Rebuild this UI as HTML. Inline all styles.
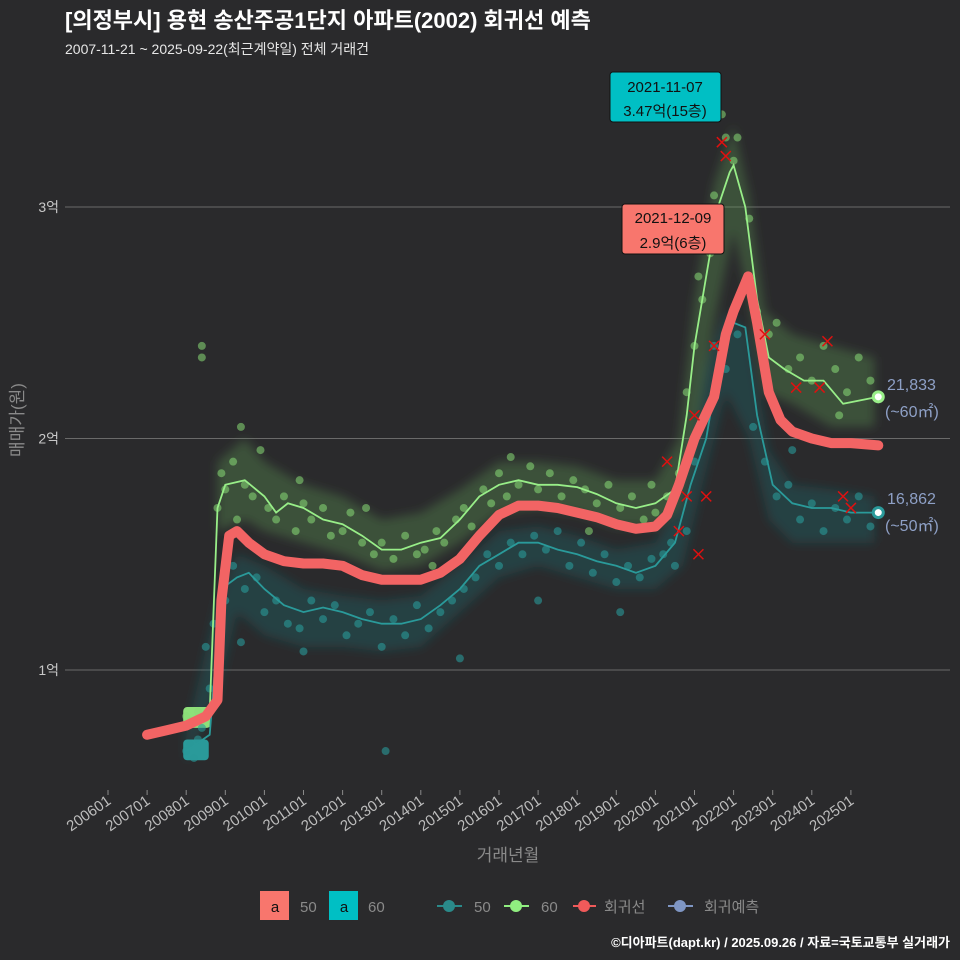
<!DOCTYPE html>
<html><head><meta charset="utf-8">
<style>
body{margin:0;background:#2a2a2c;}
svg{display:block;font-family:"Liberation Sans","Noto Sans CJK KR",sans-serif;}
</style></head>
<body>
<svg id="chart" width="960" height="960" viewBox="0 0 960 960" xmlns="http://www.w3.org/2000/svg">
<defs><filter id="soft" x="-10%" y="-10%" width="120%" height="120%"><feGaussianBlur stdDeviation="5"/></filter></defs>
<rect width="960" height="960" fill="#2a2a2c"/>
<text x="65" y="28" fill="#ffffff" font-size="22" font-weight="bold">[의정부시] 용현 송산주공1단지 아파트(2002) 회귀선 예측</text>
<text x="65" y="54" fill="#e6e6e6" font-size="14">2007-11-21 ~ 2025-09-22(최근계약일) 전체 거래건</text>
<g id="grid"></g>
<g id="bands" filter="url(#soft)"></g>
<g id="scatter"></g>
<g id="lines"></g>
<g id="marks"></g>
<g id="axes"></g>
<text transform="translate(23,420) rotate(-90)" text-anchor="middle" fill="#8a8a8a" font-size="17">매매가(원)</text>
<text x="508" y="861" text-anchor="middle" fill="#8a8a8a" font-size="17">거래년월</text>

<g>
<rect x="610" y="72" width="111" height="50" rx="3" fill="#00bfc4" stroke="#111" stroke-width="1"/>
<text x="665" y="92" text-anchor="middle" font-size="15" fill="#111">2021-11-07</text>
<text x="665" y="116" text-anchor="middle" font-size="15" fill="#111">3.47억(15층)</text>
</g>
<g>
<rect x="622" y="204" width="102" height="50" rx="3" fill="#f8766d" stroke="#111" stroke-width="1"/>
<text x="673" y="223" text-anchor="middle" font-size="15" fill="#111">2021-12-09</text>
<text x="673" y="248" text-anchor="middle" font-size="15" fill="#111">2.9억(6층)</text>
</g>
<text x="887" y="390" fill="#8ea0c6" font-size="16">21,833</text>
<text x="885" y="417" fill="#8ea0c6" font-size="16">(~60㎡)</text>
<text x="887" y="504" fill="#8ea0c6" font-size="16">16,862</text>
<text x="885" y="531" fill="#8ea0c6" font-size="16">(~50㎡)</text>

<g>
<rect x="260" y="891" width="29" height="29" fill="#f8766d"/>
<text x="275" y="912" text-anchor="middle" font-size="15" fill="#111">a</text>
<text x="300" y="912" font-size="15" fill="#8a8a8a">50</text>
<rect x="329" y="891" width="29" height="29" fill="#00bfc4"/>
<text x="344" y="912" text-anchor="middle" font-size="15" fill="#111">a</text>
<text x="368" y="912" font-size="15" fill="#8a8a8a">60</text>
<g><line x1="437" y1="906" x2="462" y2="906" stroke="#2a8a8a" stroke-width="2"/><circle cx="449" cy="906" r="6" fill="#2a8a8a"/><text x="474" y="912" font-size="15" fill="#8a8a8a">50</text></g>
<g><line x1="504" y1="906" x2="529" y2="906" stroke="#90ee80" stroke-width="2"/><circle cx="516" cy="906" r="6" fill="#90ee80"/><text x="541" y="912" font-size="15" fill="#8a8a8a">60</text></g>
<g><line x1="573" y1="906" x2="596" y2="906" stroke="#f05a5a" stroke-width="2"/><circle cx="584" cy="906" r="6" fill="#f05a5a"/><text x="604" y="912" font-size="15" fill="#8a8a8a">회귀선</text></g>
<g><line x1="668" y1="906" x2="693" y2="906" stroke="#7f96c4" stroke-width="2"/><circle cx="680" cy="906" r="6" fill="#7f96c4"/><text x="704" y="912" font-size="15" fill="#8a8a8a">회귀예측</text></g>
</g>
<text x="950" y="947" text-anchor="end" fill="#ffffff" font-size="13" font-weight="bold">©디아파트(dapt.kr) / 2025.09.26 / 자료=국토교통부 실거래가</text>
</svg>
<script>
const yTicks=[1,2,3];
const yTickLabels=["1억","2억","3억"];
const xTickYears=[2006,2007,2008,2009,2010,2011,2012,2013,2014,2015,2016,2017,2018,2019,2020,2021,2022,2023,2024,2025];
const xTickLabels=["200601","200701","200801","200901","201001","201101","201201","201301","201401","201501","201601","201701","201801","201901","202001","202101","202201","202301","202401","202501"];
const regT=[2007.0,2007.5,2008.0,2008.5,2008.8,2008.9,2009.1,2009.3,2009.6,2010.0,2010.5,2011.0,2011.5,2012.0,2012.5,2013.0,2013.5,2014.0,2014.5,2015.0,2015.5,2016.0,2016.5,2017.0,2017.5,2018.0,2018.5,2019.0,2019.5,2020.0,2020.3,2020.6,2021.0,2021.5,2021.8,2022.0,2022.37,2022.6,2022.9,2023.2,2023.5,2024.0,2024.5,2025.0,2025.7];
const regV=[0.72,0.74,0.76,0.80,0.87,1.30,1.58,1.60,1.55,1.50,1.47,1.46,1.46,1.45,1.41,1.39,1.39,1.39,1.42,1.48,1.58,1.67,1.71,1.71,1.70,1.68,1.66,1.63,1.61,1.62,1.67,1.80,2.00,2.18,2.45,2.55,2.70,2.50,2.20,2.08,2.03,2.00,1.98,1.98,1.97];
const g60T=[2008.0,2008.6,2008.8,2009.0,2009.5,2010.0,2010.3,2010.6,2011.0,2011.5,2012.0,2012.5,2013.0,2013.5,2014.0,2014.5,2015.0,2015.5,2016.0,2016.5,2017.0,2017.5,2018.0,2018.5,2019.0,2019.5,2020.0,2020.5,2020.8,2021.0,2021.3,2021.6,2021.9,2022.0,2022.3,2022.6,2022.9,2023.3,2023.8,2024.3,2024.8,2025.7];
const g60V=[0.78,0.82,1.70,1.80,1.82,1.75,1.68,1.72,1.70,1.65,1.63,1.58,1.52,1.52,1.55,1.57,1.65,1.75,1.80,1.82,1.80,1.80,1.79,1.76,1.72,1.70,1.72,1.78,2.10,2.40,2.70,3.00,3.15,3.18,3.00,2.60,2.35,2.30,2.25,2.25,2.15,2.18];
const g50T=[2008.0,2008.6,2008.9,2009.3,2009.6,2010.0,2010.5,2011.0,2011.5,2012.0,2012.5,2013.0,2013.5,2014.0,2014.5,2015.0,2015.5,2016.0,2016.5,2017.0,2017.5,2018.0,2018.5,2019.0,2019.5,2020.0,2020.5,2020.9,2021.3,2021.6,2022.0,2022.3,2022.6,2023.0,2023.5,2024.0,2024.5,2025.0,2025.7];
const g50V=[0.65,0.72,1.35,1.40,1.42,1.35,1.28,1.25,1.27,1.25,1.22,1.20,1.20,1.22,1.28,1.35,1.45,1.50,1.55,1.55,1.52,1.50,1.47,1.45,1.42,1.45,1.55,1.80,2.00,2.30,2.50,2.48,2.10,1.80,1.72,1.70,1.70,1.68,1.68];
// density envelopes of the scatter clouds
const band60T=[2008.8,2009.5,2010.0,2011.0,2012.0,2013.0,2014.0,2015.0,2016.0,2017.0,2018.0,2019.0,2020.0,2020.6,2021.0,2021.5,2022.0,2022.4,2022.8,2023.5,2024.5,2025.6];
const band60Lo=[1.60,1.65,1.60,1.55,1.50,1.43,1.45,1.55,1.68,1.70,1.68,1.62,1.62,1.70,2.00,2.50,2.90,2.60,2.20,2.15,2.05,2.05];
const band60Hi=[1.90,2.00,1.90,1.80,1.75,1.65,1.68,1.78,1.90,1.90,1.88,1.82,1.82,2.00,2.60,3.10,3.35,3.05,2.55,2.45,2.40,2.35];
const band50T=[2008.0,2008.8,2009.3,2010.0,2011.0,2012.0,2013.0,2014.0,2015.0,2016.0,2017.0,2018.0,2019.0,2020.0,2020.7,2021.2,2021.8,2022.4,2022.9,2023.5,2024.5,2025.6];
const band50Lo=[0.60,0.90,1.25,1.15,1.10,1.10,1.08,1.10,1.25,1.40,1.45,1.40,1.35,1.35,1.45,1.80,2.20,2.00,1.65,1.55,1.55,1.55];
const band50Hi=[0.72,1.30,1.50,1.45,1.35,1.32,1.30,1.32,1.45,1.60,1.62,1.58,1.52,1.55,1.75,2.30,2.55,2.45,1.95,1.80,1.78,1.75];
const s60T=[2008.0,2008.1,2008.3,2008.4,2008.4,2008.8,2008.9,2009.0,2009.2,2009.4,2009.5,2009.7,2009.9,2010.1,2010.3,2010.5,2010.8,2011.0,2011.2,2011.5,2011.7,2012.0,2012.2,2012.5,2012.8,2013.0,2013.3,2013.6,2013.9,2014.1,2014.4,2014.6,2014.9,2015.1,2015.3,2015.6,2015.8,2016.0,2016.2,2016.5,2016.8,2017.0,2017.3,2017.6,2017.9,2018.2,2018.5,2018.8,2019.1,2019.4,2019.7,2020.0,2020.3,2020.6,2020.8,2021.0,2021.2,2021.4,2021.5,2021.7,2021.8,2022.0,2022.1,2022.4,2022.6,2022.9,2023.1,2023.4,2023.7,2024.0,2024.3,2024.6,2024.9,2025.2,2025.5,2009.3,2010.9,2012.6,2014.3,2016.3,2018.3,2019.9,2021.1,2023.0,2024.7];
const s60V=[0.80,0.78,0.82,2.40,2.35,1.70,1.85,1.78,1.90,2.05,1.80,1.75,1.95,1.70,1.65,1.75,1.60,1.72,1.65,1.70,1.58,1.60,1.68,1.55,1.50,1.55,1.48,1.58,1.50,1.52,1.60,1.55,1.65,1.70,1.62,1.78,1.72,1.85,1.75,1.80,1.88,1.78,1.85,1.75,1.82,1.78,1.72,1.80,1.70,1.75,1.65,1.68,1.75,1.85,2.20,2.40,2.60,2.80,3.05,3.40,3.30,3.20,3.30,2.95,2.55,2.45,2.50,2.30,2.35,2.25,2.40,2.30,2.20,2.35,2.25,1.65,1.82,1.70,1.45,1.92,1.60,1.80,2.70,2.15,2.10];
const s50T=[2008.0,2008.1,2008.2,2008.3,2008.4,2008.5,2008.7,2008.8,2009.0,2009.2,2009.5,2009.8,2010.0,2010.3,2010.6,2010.9,2011.2,2011.5,2011.8,2012.1,2012.4,2012.7,2013.0,2013.3,2013.6,2013.9,2014.2,2014.5,2014.8,2015.1,2015.4,2015.7,2016.0,2016.3,2016.6,2016.9,2017.2,2017.5,2017.8,2018.1,2018.4,2018.7,2019.0,2019.3,2019.6,2019.9,2020.2,2020.5,2020.8,2021.0,2021.3,2021.5,2021.8,2022.1,2022.5,2022.8,2023.1,2023.4,2023.7,2024.0,2024.3,2024.6,2024.9,2025.2,2025.5,2008.6,2009.4,2011.0,2013.1,2015.0,2017.0,2019.1,2020.4,2023.5];
const s50V=[0.65,0.68,0.62,0.70,0.75,1.10,1.20,1.00,1.30,1.45,1.35,1.40,1.25,1.30,1.20,1.18,1.30,1.22,1.28,1.15,1.20,1.25,1.10,1.22,1.15,1.28,1.18,1.25,1.30,1.35,1.40,1.50,1.45,1.55,1.50,1.58,1.52,1.60,1.45,1.55,1.42,1.50,1.38,1.45,1.40,1.48,1.50,1.45,1.60,1.90,2.10,2.40,2.30,2.45,2.05,1.90,1.75,1.80,1.65,1.72,1.60,1.70,1.65,1.75,1.62,0.92,1.12,1.08,0.65,1.05,1.30,1.25,1.55,1.95];
const xMarkT=[2020.3,2020.6,2020.8,2021.0,2021.1,2021.3,2021.5,2021.7,2021.8,2022.8,2023.6,2024.2,2024.4,2024.8,2025.0];
const xMarkV=[1.90,1.60,1.75,2.10,1.50,1.75,2.40,3.28,3.22,2.45,2.22,2.22,2.42,1.75,1.70];

const NS="http://www.w3.org/2000/svg";
const X=t=>108+(t-2006)*39.1;
const Y=v=>670-(v-1)*231.5;
function mk(tag,attrs,parent){const e=document.createElementNS(NS,tag);for(const k in attrs)e.setAttribute(k,attrs[k]);parent.appendChild(e);return e;}
const grid=document.getElementById('grid'),axes=document.getElementById('axes');
yTicks.forEach((v,i)=>{
  const l=mk('line',{x1:65,x2:950,y1:Y(v),y2:Y(v),stroke:'#6a6a6a','stroke-width':1},grid);
  
  
  const t=mk('text',{x:59,y:Y(v)+5,'text-anchor':'end','font-size':14,fill:'#c8c8c8'},axes);
  t.textContent=yTickLabels[i];
  
  
});
xTickYears.forEach((yr,i)=>{
  const x=X(yr);
  const tk=mk('line',{x1:x,x2:x,y1:790,y2:795,stroke:'#8a8a8a'},axes);
  
  
  const t=mk('text',{transform:`translate(${x+4},${803}) rotate(-35)`,'text-anchor':'end','font-size':15,fill:'#bdbdbd'},axes);
  t.textContent=xTickLabels[i];
  
  
});
const bands=document.getElementById('bands');
function band(T,Lo,Hi,fill,name){
  let d=T.map((t,i)=>(i?'L':'M')+X(t).toFixed(1)+','+Y(Hi[i]).toFixed(1)).join('');
  for(let i=T.length-1;i>=0;i--)d+='L'+X(T[i]).toFixed(1)+','+Y(Lo[i]).toFixed(1);
  const p=mk('path',{d:d+'Z',fill:fill,'fill-opacity':0.35},bands);
  
  
}
band(band50T,band50Lo,band50Hi,'#1f6b6c','scatter-band-50');
band(band60T,band60Lo,band60Hi,'#5f9a52','scatter-band-60');
const sc=document.getElementById('scatter');
const blk=mk('rect',{x:X(2008.0)-3,y:Y(0.84),width:X(2008.55)-X(2008.0)+6,height:Y(0.75)-Y(0.84),rx:4,fill:'#8ee07a'},sc);


const blk2=mk('rect',{x:X(2008.0)-3,y:Y(0.70),width:X(2008.5)-X(2008.0)+6,height:Y(0.61)-Y(0.70),rx:4,fill:'#2a9a9a'},sc);


s50T.forEach((t,i)=>{
  const c=mk('circle',{cx:X(t),cy:Y(s50V[i]),r:4,fill:'#2a9a9a','fill-opacity':0.6},sc);
  
  
});
s60T.forEach((t,i)=>{
  const c=mk('circle',{cx:X(t),cy:Y(s60V[i]),r:4,fill:'#88dd77','fill-opacity':0.55},sc);
  
  
});
const ln=document.getElementById('lines');
function path(T,V,attrs,name){
  const d=T.map((t,i)=>(i?'L':'M')+X(t).toFixed(1)+','+Y(V[i]).toFixed(1)).join('');
  const p=mk('path',Object.assign({d:d,fill:'none'},attrs),ln);
  
  
}
path(g50T,g50V,{stroke:'#2a9a9a','stroke-width':1.8},'line-50');
path(g60T,g60V,{stroke:'#98ee88','stroke-width':1.8},'line-60');
path(regT,regV,{stroke:'#f26464','stroke-width':10,'stroke-linecap':'round','stroke-linejoin':'round'},'regression-line');
const e60=mk('circle',{cx:X(g60T[g60T.length-1]),cy:Y(g60V[g60V.length-1]),r:5,fill:'#ffffff',stroke:'#98ee88','stroke-width':3},ln);


const e50=mk('circle',{cx:X(g50T[g50T.length-1]),cy:Y(g50V[g50V.length-1]),r:5,fill:'#ffffff',stroke:'#2a9a9a','stroke-width':3},ln);


const mg=document.getElementById('marks');
xMarkT.forEach((t,i)=>{
  const x=X(t),y=Y(xMarkV[i]);
  const p=mk('path',{d:`M${x-5},${y-5}L${x+5},${y+5}M${x+5},${y-5}L${x-5},${y+5}`,stroke:'#e01010','stroke-width':1.5},mg);
  
  
});
</script>
</body></html>
